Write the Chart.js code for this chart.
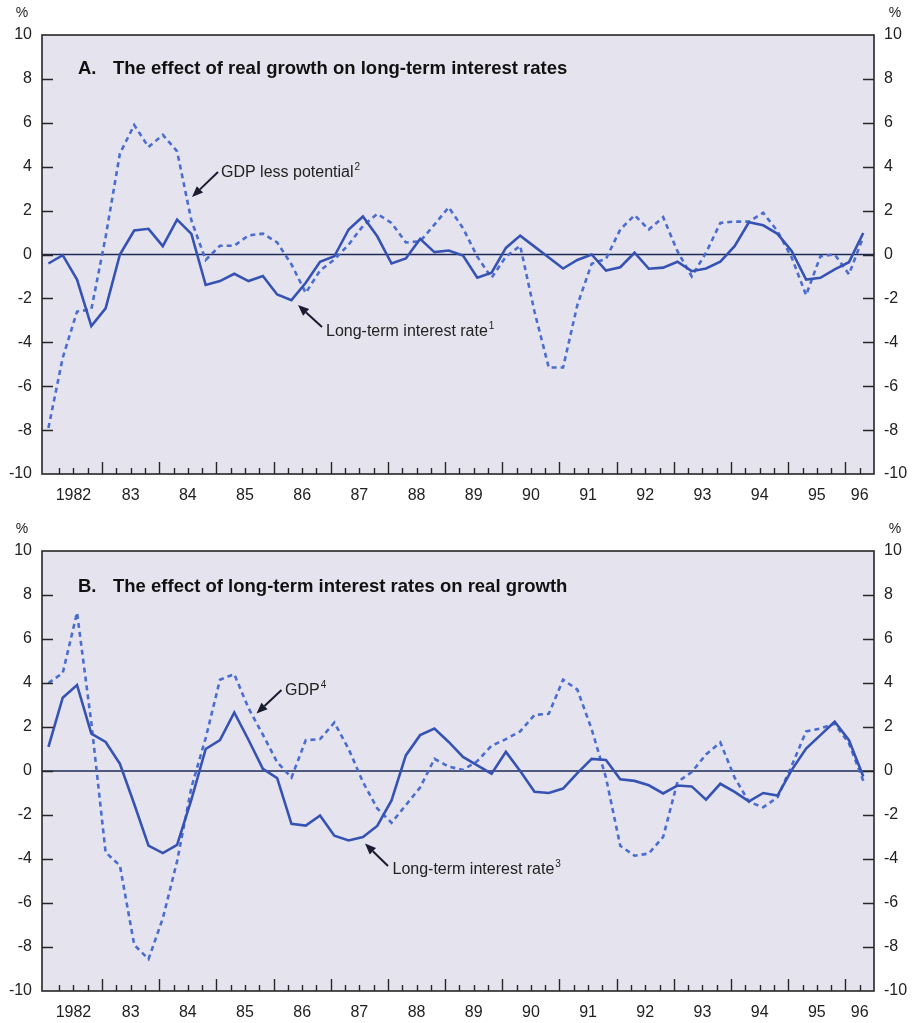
<!DOCTYPE html>
<html>
<head>
<meta charset="utf-8">
<script src="https://cdn.jsdelivr.net/npm/chart.js@4.4.1/dist/chart.umd.min.js"></script>
<style>
  html, body { margin: 0; padding: 0; background: #ffffff; }
  #wrap { position: relative; width: 917px; height: 1023px; overflow: hidden; }
  canvas { position: absolute; left: 0; }
  #chartA { top: 0; }
  #chartB { top: 516px; }
</style>
</head>
<body>
<div id="wrap">
  <canvas id="chartA" width="917" height="515"></canvas>
  <canvas id="chartB" width="917" height="507"></canvas>
</div>
<script>
// Year labels along the quarterly axis (1982 Q1 to 1996 Q2)
const yearLabels = ['1982', '83', '84', '85', '86', '87', '88', '89', '90', '91', '92', '93', '94', '95', '96'];
const quarterCount = 58;
const yTicks = [-10, -8, -6, -4, -2, 0, 2, 4, 6, 8, 10];

// Panel A: long-term interest rate (solid) and GDP less potential (dotted), %
const rateA = [
  -0.41, -0.03, -1.14, -3.26, -2.45, 0.0, 1.09, 1.17, 0.38, 1.59,
  0.94, -1.39, -1.21, -0.88, -1.21, -0.98, -1.82, -2.08, -1.29, -0.33,
  -0.08, 1.14, 1.73, 0.83, -0.41, -0.18, 0.71, 0.11, 0.18, -0.05,
  -1.06, -0.83, 0.3, 0.86, 0.36, -0.14, -0.64, -0.25, 0.0, -0.73,
  -0.58, 0.08, -0.65, -0.6, -0.33, -0.76, -0.64, -0.33, 0.38, 1.47,
  1.33, 0.94, 0.15, -1.14, -1.06, -0.68, -0.35, 0.98
];
const gapA = [
  -7.9, -4.7, -2.6, -2.5, 0.8, 4.6, 5.9, 4.9, 5.45, 4.7,
  1.55, -0.25, 0.4, 0.4, 0.87, 0.95, 0.55, -0.45, -1.75, -0.73,
  -0.23, 0.45, 1.3, 1.85, 1.44, 0.55, 0.6, 1.36, 2.15, 1.2,
  -0.1, -1.06, -0.1, 0.4, -2.6, -5.15, -5.15, -2.3, -0.42, -0.2,
  1.14, 1.79, 1.14, 1.7, 0.15, -1.0, 0.08, 1.44, 1.5, 1.5,
  1.9, 1.06, -0.15, -1.85, -0.08, 0.0, -0.9, 0.8
];

// Panel B: long-term interest rate (solid) and GDP (dotted), %
const rateB = [
  1.1, 3.33, 3.91, 1.7, 1.32, 0.33, -1.5, -3.39, -3.73, -3.36,
  -1.3, 1.0, 1.4, 2.66, 1.41, 0.1, -0.32, -2.4, -2.48, -2.02,
  -2.94, -3.16, -3.0, -2.5, -1.34, 0.71, 1.63, 1.93, 1.32, 0.64,
  0.26, -0.12, 0.87, 0.0, -0.94, -1.0, -0.8, -0.1, 0.55, 0.5,
  -0.38, -0.45, -0.65, -1.02, -0.66, -0.7, -1.3, -0.58, -0.95, -1.38,
  -1.0, -1.12, 0.05, 1.02, 1.63, 2.24, 1.4, -0.25
];
const gdpB = [
  4.0, 4.45, 7.2, 2.2, -3.7, -4.3, -7.9, -8.55, -6.7, -4.1,
  -0.75, 1.5, 4.15, 4.4, 2.85, 1.65, 0.4, -0.3, 1.4, 1.45,
  2.2, 1.0, -0.5, -1.7, -2.35, -1.55, -0.75, 0.55, 0.2, 0.05,
  0.45, 1.15, 1.45, 1.8, 2.55, 2.6, 4.15, 3.7, 1.9, -0.3,
  -3.4, -3.85, -3.75, -3.0, -0.5, -0.05, 0.75, 1.3, -0.3, -1.4,
  -1.65, -1.2, 0.25, 1.8, 1.93, 2.16, 1.25, -0.45
];

const FAMILY = "'Liberation Sans', Arial, Helvetica, sans-serif";
const SOLID = '#3653b4';
const DOTTED = '#4a6dcf';
const INK = '#222222';
const PLOT_BG = 'rgb(229, 228, 238)';

// Label sits in the middle of the visible part of each year
const yearCenters = yearLabels.map((_, j) => (4 * j + Math.min(4 * j + 4, quarterCount)) / 2);

function toPoints(values) {
  return values.map((v, i) => ({ x: i + 0.25, y: v }));
}

function drawArrow(ctx, x1, y1, x2, y2) {
  const ang = Math.atan2(y2 - y1, x2 - x1);
  const head = 11, half = 4.5;
  const bx = x2 - head * Math.cos(ang), by = y2 - head * Math.sin(ang);
  ctx.save();
  ctx.strokeStyle = '#1c1c30';
  ctx.fillStyle = '#1c1c30';
  ctx.lineWidth = 2;
  ctx.beginPath();
  ctx.moveTo(x1, y1);
  ctx.lineTo(bx, by);
  ctx.stroke();
  ctx.beginPath();
  ctx.moveTo(x2, y2);
  ctx.lineTo(bx + half * Math.sin(ang), by - half * Math.cos(ang));
  ctx.lineTo(bx - half * Math.sin(ang), by + half * Math.cos(ang));
  ctx.closePath();
  ctx.fill();
  ctx.restore();
}

function drawLabel(ctx, text, sup, x, baseline) {
  ctx.save();
  ctx.fillStyle = INK;
  ctx.textAlign = 'left';
  ctx.textBaseline = 'alphabetic';
  ctx.font = '16px ' + FAMILY;
  ctx.fillText(text, x, baseline);
  const w = ctx.measureText(text).width;
  ctx.font = '10px ' + FAMILY;
  ctx.fillText(sup, x + w + 1, baseline - 7);
  ctx.restore();
}

// Plot background, zero line, frame, inward tick marks and annotations
const panelDecor = {
  id: 'panelDecor',
  beforeDatasetsDraw(chart) {
    const { ctx, chartArea: a, scales } = chart;
    const y0 = scales.y.getPixelForValue(0);
    ctx.save();
    ctx.strokeStyle = '#1d2a55';
    ctx.lineWidth = 1.6;
    ctx.beginPath();
    ctx.moveTo(a.left, y0);
    ctx.lineTo(a.right, y0);
    ctx.stroke();
    ctx.restore();
  },
  beforeDraw(chart) {
    const { ctx, chartArea: a } = chart;
    ctx.save();
    ctx.fillStyle = PLOT_BG;
    ctx.fillRect(a.left, a.top, a.right - a.left, a.bottom - a.top);
    ctx.restore();
  },
  afterDraw(chart, args, opts) {
    const { ctx, chartArea: a, scales } = chart;
    ctx.save();
    ctx.strokeStyle = '#262626';
    ctx.lineWidth = 1.6;
    ctx.strokeRect(a.left, a.top, a.right - a.left, a.bottom - a.top);
    // quarter ticks along the bottom, longer at year boundaries
    ctx.lineWidth = 1.4;
    ctx.beginPath();
    for (let k = 1; k < quarterCount; k++) {
      const px = Math.round(scales.x.getPixelForValue(k)) + 0.5;
      const len = k % 4 === 0 ? 12 : 6;
      ctx.moveTo(px, a.bottom);
      ctx.lineTo(px, a.bottom - len);
    }
    // value ticks on both sides
    yTicks.forEach(v => {
      if (v === yTicks[0] || v === yTicks[yTicks.length - 1]) return;
      const py = Math.round(scales.y.getPixelForValue(v)) + 0.5;
      ctx.moveTo(a.left, py); ctx.lineTo(a.left + 11, py);
      ctx.moveTo(a.right, py); ctx.lineTo(a.right - 11, py);
    });
    ctx.stroke();

    // unit labels
    ctx.fillStyle = INK;
    ctx.font = '14px ' + FAMILY;
    ctx.textAlign = 'center';
    ctx.textBaseline = 'middle';
    ctx.fillText('%', 22, a.top - 22);
    ctx.fillText('%', 895, a.top - 22);

    // panel title
    ctx.textAlign = 'left';
    ctx.textBaseline = 'alphabetic';
    ctx.font = 'bold 18.5px ' + FAMILY;
    ctx.fillStyle = '#111111';
    ctx.fillText(opts.letter, 78, a.top + opts.titleY);
    ctx.fillText(opts.title, 113, a.top + opts.titleY);
    ctx.restore();

    opts.notes.forEach(n => {
      drawLabel(ctx, n.text, n.sup, n.x, n.y);
      drawArrow(ctx, n.from[0], n.from[1], n.to[0], n.to[1]);
    });
  }
};

function makePanel(id, solid, dotted, xAxisHeight, decor) {
  const tickFont = { family: FAMILY, size: 16 };
  const yAxis = (position, width) => ({
    type: 'linear',
    position,
    min: -10,
    max: 10,
    afterBuildTicks: s => { s.ticks = yTicks.map(v => ({ value: v })); },
    afterFit: s => { s.width = width; },
    grid: { display: false, drawTicks: false },
    border: { display: false },
    ticks: { padding: 10, color: INK, font: tickFont }
  });
  return new Chart(document.getElementById(id), {
    type: 'line',
    data: {
      datasets: [
        {
          label: 'Long-term interest rate',
          data: toPoints(solid),
          borderColor: SOLID,
          borderWidth: 2.6,
          pointRadius: 0,
          tension: 0,
          fill: false
        },
        {
          label: 'GDP',
          data: toPoints(dotted),
          borderColor: DOTTED,
          borderWidth: 2.6,
          borderDash: [5, 4],
          pointRadius: 0,
          tension: 0,
          fill: false
        }
      ]
    },
    options: {
      responsive: false,
      animation: false,
      layout: { padding: { top: 35, left: 0, right: 0, bottom: 0 } },
      plugins: {
        legend: { display: false },
        tooltip: { enabled: false },
        panelDecor: decor
      },
      scales: {
        x: {
          type: 'linear',
          min: -0.2,
          max: quarterCount,
          afterBuildTicks: s => { s.ticks = yearCenters.map(v => ({ value: v })); },
          afterFit: s => { s.height = xAxisHeight; },
          grid: { display: false, drawTicks: false },
          border: { display: false },
          ticks: {
            autoSkip: false,
            maxRotation: 0,
            padding: 12,
            color: INK,
            font: tickFont,
            callback: (value, index) => yearLabels[index]
          }
        },
        y: yAxis('left', 42),
        y2: yAxis('right', 43)
      }
    },
    plugins: [panelDecor]
  });
}

makePanel('chartA', rateA, gapA, 41, {
  letter: 'A.',
  title: 'The effect of real growth on long-term interest rates',
  titleY: 39,
  notes: [
    { text: 'GDP less potential', sup: '2', x: 221, y: 176.5, from: [218, 172], to: [192, 197] },
    { text: 'Long-term interest rate', sup: '1', x: 326, y: 336, from: [322, 327], to: [298, 305] }
  ]
});

makePanel('chartB', rateB, gdpB, 32, {
  letter: 'B.',
  title: 'The effect of long-term interest rates on real growth',
  titleY: 40.5,
  notes: [
    { text: 'GDP', sup: '4', x: 285, y: 179, from: [281.5, 174], to: [256.5, 197.5] },
    { text: 'Long-term interest rate', sup: '3', x: 392.5, y: 358, from: [388, 350], to: [365, 327.5] }
  ]
});
</script>
</body>
</html>
